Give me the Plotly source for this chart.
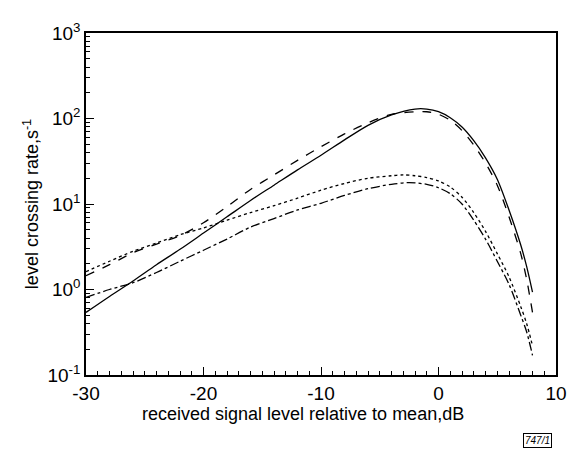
import plotly.graph_objects as go

# received signal level relative to mean (dB)
x_solid = [-30, -28, -26, -24, -22, -20, -18, -16, -14, -12, -10, -8, -6, -4, -2, -1, 0, 1, 2, 3, 4, 5, 6, 7, 7.5, 8]
y_solid = [0.54, 0.83, 1.26, 1.95, 2.95, 4.57, 7.08, 11.0, 16.6, 25.1, 37.2, 56.2, 83.2, 110, 129, 129, 120, 102, 79.4, 55.0, 34.7, 19.5, 8.51, 3.31, 1.86, 0.93]

x_dashed = [-30, -28, -26, -24, -22, -20, -18, -16, -14, -12, -10, -8, -6, -4, -2, -1, 0, 1, 2, 3, 4, 5, 6, 7, 7.5, 8]
y_dashed = [1.45, 1.95, 2.69, 3.39, 4.27, 6.03, 9.33, 14.8, 21.9, 32.4, 46.8, 66.1, 89.1, 112, 120, 120, 112, 95.5, 72.4, 49.0, 30.2, 16.6, 7.08, 2.63, 1.32, 0.54]

x_dotted = [-30, -28, -26, -24, -22, -20, -18, -16, -14, -12, -10, -8, -6, -4, -3, -2, -1, 0, 1, 2, 3, 4, 5, 6, 7, 7.5, 8]
y_dotted = [1.62, 2.14, 2.80, 3.50, 4.37, 5.25, 6.46, 7.94, 9.55, 11.7, 14.5, 17.4, 20.0, 21.4, 21.9, 21.4, 20.4, 18.6, 15.8, 12.0, 7.94, 4.79, 2.63, 1.41, 0.63, 0.40, 0.22]

x_dashdot = [-30, -28, -26, -24, -22, -20, -18, -16, -14, -12, -10, -8, -6, -4, -2.5, -1, 0, 1, 2, 3, 4, 5, 6, 7, 7.5, 8]
y_dashdot = [0.81, 1.00, 1.20, 1.58, 2.14, 2.88, 3.89, 5.37, 6.76, 8.51, 10.2, 12.6, 15.1, 17.0, 17.8, 17.0, 15.5, 13.2, 10.0, 6.46, 3.89, 2.14, 1.15, 0.50, 0.32, 0.17]

y_tickvals = [0.1, 1, 10, 100, 1000]
y_ticktext = ["10<sup>-1</sup>", "10<sup>0</sup>", "10<sup>1</sup>", "10<sup>2</sup>", "10<sup>3</sup>"]
x_tickvals = [-30, -20, -10, 0, 10]
x_ticktext = ["-30", "-20", "-10", "0", "10"]

y_minor = [m * 10 ** e for e in range(-1, 3) for m in range(2, 10)]

fig = go.Figure()
series = [
    (x_solid, y_solid, "solid"),
    (x_dashed, y_dashed, "dash"),
    (x_dotted, y_dotted, "dot"),
    (x_dashdot, y_dashdot, "dashdot"),
]
for xs, ys, dash in series:
    fig.add_trace(go.Scatter(
        x=xs, y=ys, mode="lines", line=dict(color="black", width=1.3, dash=dash, shape="spline", smoothing=0.8),
        showlegend=False, hoverinfo="skip"))

font = "Liberation Sans, Arial, Helvetica, sans-serif"
fig.update_layout(
    width=571, height=446,
    margin=dict(l=78, r=17, t=22, b=79),
    paper_bgcolor="white", plot_bgcolor="white",
    font=dict(family=font, size=18, color="black"),
    xaxis=dict(
        range=[-30, 10], tickvals=x_tickvals, ticktext=x_ticktext,
        showgrid=False, zeroline=False, showline=True, linecolor="black", linewidth=1.5, mirror=True,
        ticks="inside", ticklen=8, tickwidth=1, tickcolor="black",
        minor=dict(ticks="inside", ticklen=4, dtick=1, tick0=-30, tickcolor="black"),
        tickfont=dict(size=19),
    ),
    yaxis=dict(
        type="log", range=[-1, 3], tickvals=y_tickvals, ticktext=y_ticktext,
        showgrid=False, zeroline=False, showline=True, linecolor="black", linewidth=1.5, mirror=True,
        ticks="inside", ticklen=8, tickwidth=1, tickcolor="black",
        minor=dict(ticks="inside", ticklen=4, tickvals=y_minor, tickcolor="black"),
        title=dict(text="level crossing rate,s<sup>-1</sup>", font=dict(size=18), standoff=4),
        tickfont=dict(size=19),
    ),
)

fig.add_annotation(
    x=0.462, y=-0.08, xref="paper", yref="paper", xanchor="center", yanchor="top",
    text="received signal level relative to mean,dB", showarrow=False, font=dict(size=18, family=font),
)

fig.add_annotation(
    x=0.992, y=-0.191, xref="paper", yref="paper", xanchor="right", yanchor="middle",
    text="<i>747/1</i>", showarrow=False, font=dict(size=10, family=font),
    bordercolor="black", borderwidth=1, borderpad=1,
)

fig.write_html("out.html")
